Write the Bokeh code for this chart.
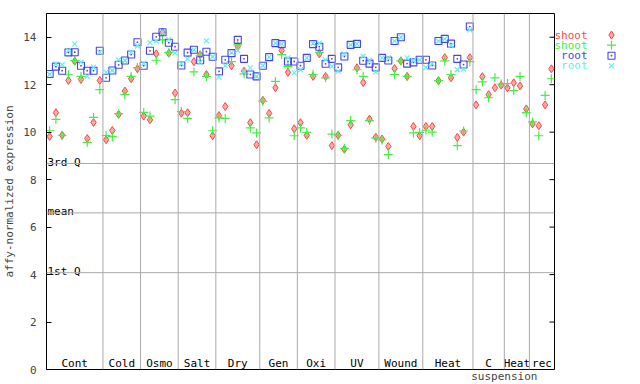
from bokeh.plotting import figure
from bokeh.models import Range1d, FixedTicker, Span
from bokeh.layouts import row
from bokeh.embed import file_html
from bokeh.resources import INLINE
from bokeh.core.properties import value
import numpy as np

# ---------------- data ----------------
groups = ["Cont", "Cold", "Osmo", "Salt", "Dry", "Gen", "Oxi", "UV", "Wound",
          "Heat", "C", "Heat", "rec"]
group_sizes = [9, 6, 6, 6, 7, 6, 6, 7, 7, 8, 5, 4, 4]
suspension_label = "suspension"

shoot_red = [
    9.82, 10.82, 9.87, 12.18, 12.99, 12.22, 9.73, 10.41, 12.18,
    9.68, 10.07, 10.75, 11.73, 12.25, 12.67,
    10.68, 10.52, 13.30, 14.21, 13.33, 11.65,
    10.80, 10.82, 12.97, 13.26, 12.43, 9.85,
    10.70, 11.08, 12.80, 13.61, 12.57, 10.40, 9.47,
    11.34, 10.79, 11.87, 13.44, 12.52, 10.14,
    10.40, 9.87, 12.35, 13.30, 12.35, 9.43,
    9.87, 9.28, 10.31, 12.71, 12.09, 10.55, 9.79,
    9.71, 9.40, 12.68, 13.00, 12.35, 10.24, 9.85,
    10.24, 10.24, 12.17, 13.14, 12.29, 9.78, 10.00, 13.14,
    11.15, 12.34, 11.58, 11.87, 11.98,
    11.87, 12.08, 11.95, 10.98,
    10.35, 10.27, 11.15, 12.67,
]
shoot_green = [
    10.06, 10.54, 9.87, 12.42, 13.02, 12.35, 9.57, 10.62, 11.79,
    9.86, 9.82, 10.78, 11.58, 12.35, 12.72,
    10.83, 10.68, 13.03, 13.89, 13.36, 11.37,
    10.87, 10.58, 12.54, 13.24, 12.35, 10.06,
    10.60, 10.58, 12.97, 13.68, 12.46, 10.18, 9.97,
    11.30, 10.60, 12.14, 13.27, 12.76, 9.85,
    10.18, 9.99, 12.43, 13.36, 12.29, 9.92,
    9.87, 9.32, 10.49, 12.63, 12.35, 10.49, 9.75,
    9.67, 9.05, 12.43, 13.00, 12.35, 9.97, 9.99,
    10.08, 10.00, 12.17, 13.00, 12.43, 9.43, 10.05, 12.97,
    11.79, 12.12, 11.45, 12.29, 12.03,
    12.05, 11.75, 12.35, 10.82,
    10.43, 9.85, 11.55, 12.25,
]
root_blue = [
    12.45, 12.76, 12.59, 13.36, 13.37, 12.80, 12.59, 12.59, 13.43,
    12.29, 12.60, 12.84, 13.02, 13.27, 13.79,
    12.80, 13.43, 14.02, 14.21, 13.77, 13.60,
    12.81, 13.35, 13.47, 13.03, 13.39, 13.18,
    12.56, 13.05, 13.33, 13.89, 13.09, 12.43, 12.35,
    12.80, 13.16, 13.75, 13.71, 12.98, 12.98,
    12.80, 13.13, 13.71, 13.60, 12.88, 13.09,
    12.73, 13.19, 13.68, 13.72, 13.01, 12.89, 12.73,
    13.13, 13.02, 13.84, 14.00, 12.89, 12.94, 13.05,
    13.05, 12.81, 13.84, 13.93, 13.73, 13.09, 12.85, 14.45,
]
root_cyan = [
    12.43, 12.88, 12.85, 13.45, 13.72, 12.95, 12.35, 12.74, 13.37,
    12.53, 12.60, 13.05, 13.02, 13.37, 13.63,
    12.91, 13.77, 13.84, 14.21, 13.91, 13.33,
    12.88, 13.09, 13.47, 12.95, 13.85, 13.18,
    12.32, 12.80, 13.35, 13.44, 12.56, 12.71, 12.35,
    12.80, 13.16, 13.75, 13.71, 13.13, 12.50,
    12.63, 13.13, 13.74, 13.75, 13.05, 12.77,
    12.56, 13.30, 13.68, 13.72, 13.20, 13.02, 12.54,
    13.13, 13.13, 13.84, 14.00, 13.13, 13.02, 13.05,
    12.73, 12.88, 13.84, 13.93, 13.65, 12.63, 12.66, 14.31,
]

series_labels = ["shoot", "shoot", "root", "root"]
quartile_names = ["3rd Q", "mean", "1st Q"]
quartile_values = [8.68, 6.60, 4.08]
y_ticks = [0, 2, 4, 6, 8, 10, 12, 14]

# ---------------- styles ----------------
RED, GREEN, BLUE, CYAN = "#ff4444", "#44ee44", "#4444ee", "#66eeee"
GRAY = "#aaaaaa"
FONT = value("DejaVu Sans Mono")
FS = "11px"

n = sum(group_sizes)
x_all = np.arange(1, n + 1)
x_root = np.arange(1, len(root_blue) + 1)
bounds = np.cumsum(group_sizes) + 0.5
starts = np.concatenate([[0.5], bounds[:-1]])
centers = (starts + bounds) / 2.0

p = figure(frame_width=508, frame_height=356,
           x_range=Range1d(0.5, n + 0.5), y_range=Range1d(0, 15),
           output_backend="svg", toolbar_location=None,
           min_border_left=44, min_border_right=1,
           min_border_top=13, min_border_bottom=15)
p.background_fill_color = "white"
p.border_fill_color = "white"
p.outline_line_color = "black"
p.xgrid.visible = False
p.ygrid.visible = False

# y axis
p.yaxis.ticker = FixedTicker(ticks=y_ticks)
p.yaxis.major_tick_in = 5
p.yaxis.major_tick_out = 0
p.yaxis.minor_tick_line_color = None
p.yaxis.major_label_standoff = 10
p.yaxis.axis_label = "affy-normalized expression"
p.yaxis.axis_label_text_font_style = "normal"
p.yaxis.axis_label_text_font = "DejaVu Sans Mono"
p.yaxis.axis_label_text_font_size = FS
p.yaxis.axis_label_standoff = 4
p.yaxis.major_label_text_font = "DejaVu Sans Mono"
p.yaxis.major_label_text_font_size = FS
p.yaxis.axis_line_color = "black"

# x axis: only the "suspension" sub-label below the frame
susp_x = float(bounds[10])
p.xaxis.ticker = FixedTicker(ticks=[susp_x])
p.xaxis.major_label_overrides = {susp_x: suspension_label}
p.xaxis.major_tick_in = 0
p.xaxis.major_tick_out = 0
p.xaxis.minor_tick_line_color = None
p.xaxis.axis_line_color = None
p.xaxis.major_label_standoff = 0
p.xaxis.major_label_text_font = "DejaVu Sans Mono"
p.xaxis.major_label_text_font_size = FS

# group separators
for b in bounds[:-1]:
    p.add_layout(Span(location=float(b), dimension="height",
                      line_color=GRAY, line_width=1))
# quartile lines
for q in quartile_values:
    p.add_layout(Span(location=q, dimension="width",
                      line_color=GRAY, line_width=1))

p.text(x=[0.5] * 3, y=quartile_values, text=quartile_names,
       text_font=FONT, text_font_size=FS, text_color="black",
       text_align="left", text_baseline="alphabetic",
       x_offset=1, y_offset=-1)

# right-side inward ticks
tick_len = (n) / 508.0 * 5
p.segment(x0=[n + 0.5 - tick_len] * len(y_ticks), y0=y_ticks,
          x1=[n + 0.5] * len(y_ticks), y1=y_ticks, line_color="black", line_width=1)

# group labels
p.text(x=centers, y=[0] * len(groups), text=groups,
       text_font=FONT, text_font_size=FS, text_color="black",
       text_align="center", text_baseline="bottom")

# data markers
p.scatter(x_all, shoot_red, marker="diamond", size=8,
          line_color=RED, fill_color="#ffaaaa", line_width=1)
p.scatter(x_all, shoot_green, marker="cross", size=9,
          line_color=GREEN, line_width=1.2)
p.scatter(x_root, root_blue, marker="square_dot", size=7,
          line_color=BLUE, fill_color=None, line_width=1.1)
p.scatter(x_root, root_cyan, marker="x", size=7,
          line_color=CYAN, line_width=1.2)

# ---------------- legend panel ----------------
lg = figure(width=87, height=384, x_range=Range1d(553, 640),
            y_range=Range1d(384, 0), output_backend="svg",
            toolbar_location=None, min_border=0,
            x_axis_location=None, y_axis_location=None)
lg.outline_line_color = None
lg.grid.visible = False
lg.background_fill_color = "white"
lg.border_fill_color = "white"

ly = [23.3, 34.3, 45.7, 56.7]
lg.text(x=[585] * 4, y=ly, text=series_labels,
        text_color=[RED, GREEN, BLUE, CYAN],
        text_font=FONT, text_font_size=FS,
        text_align="right", text_baseline="middle")
lg.scatter([609], [ly[0]], marker="diamond", size=8,
           line_color=RED, fill_color="#ffaaaa", line_width=1)
lg.scatter([609], [ly[1]], marker="cross", size=9,
           line_color=GREEN, line_width=1.2)
lg.scatter([609], [ly[2]], marker="square_dot", size=7,
           line_color=BLUE, fill_color=None, line_width=1.1)
lg.scatter([609], [ly[3]], marker="x", size=7,
           line_color=CYAN, line_width=1.2)

layout = row(p, lg)
open("out.html", "w").write(file_html(layout, INLINE))
